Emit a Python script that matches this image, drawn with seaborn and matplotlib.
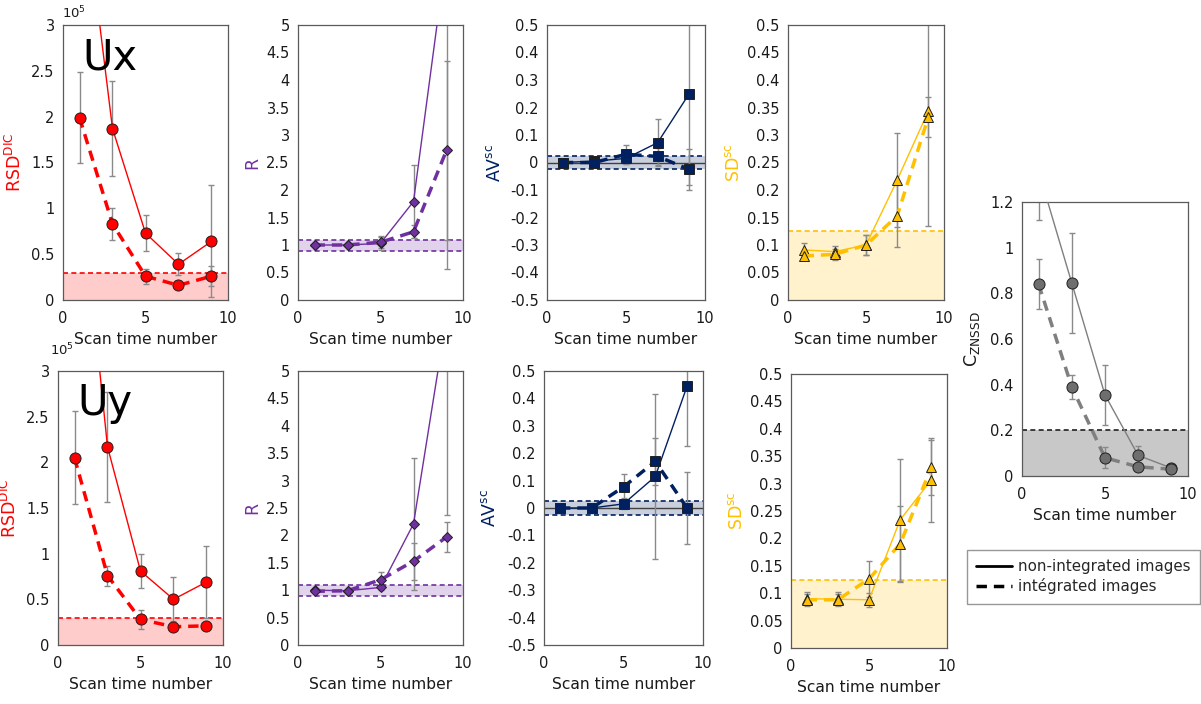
import numpy as np
import pandas as pd
import matplotlib
matplotlib.use("Agg")
import matplotlib.pyplot as plt
from matplotlib.lines import Line2D
import seaborn as sns

sns.set_style("white")
plt.rcParams["font.family"] = ["DejaVu Sans"]
plt.rcParams["mathtext.fontset"] = "dejavusans"

# Scan time numbers shared by every panel
scans = [1, 3, 5, 7, 9]

# ---- Ux row ----
ux_rsd_non = [4.8, 1.87, 0.73, 0.39, 0.64]
ux_rsd_non_err = [0.5, 0.52, 0.20, 0.12, 0.61]
ux_rsd_int = [1.99, 0.83, 0.26, 0.16, 0.26]
ux_rsd_int_err = [0.50, 0.17, 0.08, 0.03, 0.11]

ux_r_non = [1.0, 1.0, 1.03, 1.79, 6.3]
ux_r_non_err = [0.02, 0.02, 0.12, 0.66, 5.74]
ux_r_int = [1.0, 1.0, 1.05, 1.24, 2.72]
ux_r_int_err = [0.02, 0.02, 0.11, 0.12, 1.63]

ux_av_non = [0.0, 0.005, 0.015, 0.072, 0.25]
ux_av_non_err = [0.004, 0.004, 0.02, 0.085, 0.33]
ux_av_int = [0.0, 0.0, 0.03, 0.022, -0.025]
ux_av_int_err = [0.004, 0.004, 0.035, 0.03, 0.075]

ux_sd_non = [0.091, 0.088, 0.100, 0.218, 0.344]
ux_sd_non_err = [0.013, 0.010, 0.019, 0.086, 0.21]
ux_sd_int = [0.080, 0.083, 0.100, 0.153, 0.333]
ux_sd_int_err = [0.008, 0.010, 0.019, 0.057, 0.036]

# ---- Uy row ----
uy_rsd_non = [5.7, 2.17, 0.81, 0.50, 0.69]
uy_rsd_non_err = [0.5, 0.60, 0.19, 0.24, 0.39]
uy_rsd_int = [2.05, 0.76, 0.28, 0.20, 0.21]
uy_rsd_int_err = [0.51, 0.11, 0.10, 0.04, 0.02]

uy_r_non = [1.0, 0.99, 1.05, 2.21, 5.98]
uy_r_non_err = [0.03, 0.02, 0.05, 1.20, 3.6]
uy_r_int = [0.98, 0.99, 1.19, 1.53, 1.97]
uy_r_int_err = [0.03, 0.02, 0.14, 0.34, 0.28]

uy_av_non = [0.0, 0.0, 0.015, 0.115, 0.445]
uy_av_non_err = [0.004, 0.004, 0.02, 0.30, 0.22]
uy_av_int = [0.0, 0.0, 0.077, 0.17, 0.0]
uy_av_int_err = [0.004, 0.004, 0.047, 0.085, 0.13]

uy_sd_non = [0.090, 0.089, 0.088, 0.234, 0.307]
uy_sd_non_err = [0.013, 0.013, 0.013, 0.111, 0.077]
uy_sd_int = [0.088, 0.088, 0.126, 0.190, 0.330]
uy_sd_int_err = [0.010, 0.010, 0.033, 0.070, 0.050]

# ---- correlation criterion ----
c_non = [1.335, 0.845, 0.355, 0.09, 0.035]
c_non_err = [0.215, 0.22, 0.13, 0.04, 0.01]
c_int = [0.84, 0.39, 0.08, 0.04, 0.03]
c_int_err = [0.11, 0.053, 0.045, 0.01, 0.005]

# Acceptance bands (lower, upper)
rsd_band = (0.0, 0.3)
r_band = (0.9, 1.1)
av_band = (-0.025, 0.025)
sd_band = (0.0, 0.125)
c_band = (0.0, 0.2)

RED = "#ff0000"
PURPLE = "#7030a0"
NAVY = "#002060"
GOLD = "#ffc000"
GREY = "#7f7f7f"

TICK_FS = 10.5
XLABEL_FS = 11.2

W, H = 1201, 704
fig = plt.figure(figsize=(W / 100, H / 100), dpi=100)


def box(x0, x1, y0, y1):
    return [x0 / W, 1 - y1 / H, (x1 - x0) / W, (y1 - y0) / H]


def panel(rect, non, non_err, intg, intg_err, color, marker, mfc, ms,
          ylim, yticks, yfmt, band, band_color, line_color, ylabel,
          ylabel_color, ylabel_x, zero_line=False):
    ax = fig.add_axes(rect)
    ax.axhspan(band[0], band[1], color=band_color, lw=0, zorder=0)
    for yv in band:
        if yv != 0:
            ax.axhline(yv, color=line_color, lw=1.2, ls=(0, (3, 2)), zorder=1)
    if zero_line:
        ax.axhline(0, color="#404040", lw=1.0, zorder=1)
    ax.errorbar(scans, non, yerr=non_err, fmt="none", ecolor="#8a8a8a",
                elinewidth=1.0, capsize=2, zorder=2)
    ax.errorbar(scans, intg, yerr=intg_err, fmt="none", ecolor="#8a8a8a",
                elinewidth=1.0, capsize=2, zorder=2)
    df = pd.DataFrame({"scan": scans * 2, "value": non + intg,
                       "kind": ["non"] * 5 + ["int"] * 5})
    sns.lineplot(data=df[df.kind == "non"], x="scan", y="value", ax=ax,
                 color=color, lw=1.0, marker=marker, markersize=ms,
                 markerfacecolor=mfc, markeredgecolor="#202020",
                 markeredgewidth=0.7, zorder=3, legend=False)
    sns.lineplot(data=df[df.kind == "int"], x="scan", y="value", ax=ax,
                 color=color, lw=2.5, marker=marker, markersize=ms,
                 markerfacecolor=mfc, markeredgecolor="#202020",
                 markeredgewidth=0.7, zorder=3, legend=False,
                 dashes=False, linestyle=(0, (3, 2)))
    ax.set_xlim(0, 10)
    ax.set_ylim(*ylim)
    ax.set_xticks([0, 5, 10])
    ax.set_yticks(yticks)
    ax.set_yticklabels([yfmt(v) for v in yticks])
    ax.tick_params(axis="y", length=0, pad=6, labelsize=TICK_FS,
                   colors="#1a1a1a")
    ax.tick_params(axis="x", direction="in", length=5, width=0.8,
                   color="#555555", pad=8, labelsize=TICK_FS,
                   labelcolor="#1a1a1a")
    for s in ax.spines.values():
        s.set_color("#5a5a5a")
        s.set_linewidth(0.9)
    ax.set_xlabel("Scan time number", fontsize=XLABEL_FS, color="#1a1a1a",
                  labelpad=4)
    ax.set_ylabel(ylabel, fontsize=12.5, color=ylabel_color)
    ax.yaxis.set_label_coords(ylabel_x, 0.5)
    ax.set_facecolor("white")
    return ax


def fmt_g(v):
    s = ("%.2f" % v).rstrip("0").rstrip(".")
    return "0" if s in ("-0", "0") else s


rsd_ticks = [0, 0.5, 1, 1.5, 2, 2.5, 3]
r_ticks = [0, 0.5, 1, 1.5, 2, 2.5, 3, 3.5, 4, 4.5, 5]
av_ticks = [-0.5, -0.4, -0.3, -0.2, -0.1, 0, 0.1, 0.2, 0.3, 0.4, 0.5]
sd_ticks = [0, 0.05, 0.1, 0.15, 0.2, 0.25, 0.3, 0.35, 0.4, 0.45, 0.5]
c_ticks = [0, 0.2, 0.4, 0.6, 0.8, 1, 1.2]

RSD_LABEL = r"RSD$^{\mathrm{DIC}}$"
AV_LABEL = r"AV$^{\mathrm{sc}}$"
SD_LABEL = r"SD$^{\mathrm{sc}}$"

# Top row: Ux
a = panel(box(63, 228, 25, 300), ux_rsd_non, ux_rsd_non_err, ux_rsd_int,
          ux_rsd_int_err, RED, "o", RED, 8, (0, 3), rsd_ticks, fmt_g,
          rsd_band, "#ffcccc", RED, RSD_LABEL, RED, -0.23)
a.text(0.12, 0.84, "Ux", transform=a.transAxes, fontsize=30, color="black")
panel(box(298, 463, 25, 300), ux_r_non, ux_r_non_err, ux_r_int, ux_r_int_err,
      PURPLE, "D", PURPLE, 5.5, (0, 5), r_ticks, fmt_g, r_band, "#e1d3ec",
      PURPLE, "R", PURPLE, -0.22)
panel(box(547, 705, 25, 300), ux_av_non, ux_av_non_err, ux_av_int,
      ux_av_int_err, NAVY, "s", NAVY, 7.5, (-0.5, 0.5), av_ticks, fmt_g,
      av_band, "#c9cfdc", NAVY, AV_LABEL, NAVY, -0.27, zero_line=True)
panel(box(788, 944, 25, 300), ux_sd_non, ux_sd_non_err, ux_sd_int,
      ux_sd_int_err, GOLD, "^", GOLD, 7.5, (0, 0.5), sd_ticks, fmt_g,
      sd_band, "#fff2cc", GOLD, SD_LABEL, GOLD, -0.29)

# Bottom row: Uy
b = panel(box(58, 223, 371, 645), uy_rsd_non, uy_rsd_non_err, uy_rsd_int,
          uy_rsd_int_err, RED, "o", RED, 8, (0, 3), rsd_ticks, fmt_g,
          rsd_band, "#ffcccc", RED, RSD_LABEL, RED, -0.23)
b.text(0.115, 0.84, "Uy", transform=b.transAxes, fontsize=30, color="black")
panel(box(298, 463, 371, 645), uy_r_non, uy_r_non_err, uy_r_int, uy_r_int_err,
      PURPLE, "D", PURPLE, 5.5, (0, 5), r_ticks, fmt_g, r_band, "#e1d3ec",
      PURPLE, "R", PURPLE, -0.22)
panel(box(544, 703, 371, 645), uy_av_non, uy_av_non_err, uy_av_int,
      uy_av_int_err, NAVY, "s", NAVY, 7.5, (-0.5, 0.5), av_ticks, fmt_g,
      av_band, "#c9cfdc", NAVY, AV_LABEL, NAVY, -0.28, zero_line=True)
panel(box(791, 947, 374, 648), uy_sd_non, uy_sd_non_err, uy_sd_int,
      uy_sd_int_err, GOLD, "^", GOLD, 7.5, (0, 0.5), sd_ticks, fmt_g,
      sd_band, "#fff2cc", GOLD, SD_LABEL, GOLD, -0.29)

# Right: ZNSSD correlation coefficient
panel(box(1022, 1188, 202, 476), c_non, c_non_err, c_int, c_int_err,
      GREY, "o", "#6e6e6e", 8, (0, 1.2), c_ticks, fmt_g, c_band, "#c8c8c8",
      "#202020", r"C$_{\mathrm{ZNSSD}}$", "#1a1a1a", -0.24)

# Scale factor of the RSD axes
fig.text(62 / W, 1 - 13 / H, r"10$^5$", fontsize=9.5, va="center", ha="left",
         color="#1a1a1a")
fig.text(50 / W, 1 - 350 / H, r"10$^5$", fontsize=9.5, va="center", ha="left",
         color="#1a1a1a")

handles = [Line2D([], [], color="black", lw=2.0),
           Line2D([], [], color="black", lw=2.5, ls=(0, (3, 2)))]
fig.legend(handles, ["non-integrated images", "intégrated images"],
           loc="upper left", bbox_to_anchor=(967 / W, 1 - 550 / H),
           frameon=True, fancybox=False, edgecolor="#7f7f7f", fontsize=10.8,
           handlelength=2.4, handletextpad=0.4, borderpad=0.6,
           labelspacing=0.3, borderaxespad=0)

fig.savefig("out.png", dpi=100, facecolor="white")
